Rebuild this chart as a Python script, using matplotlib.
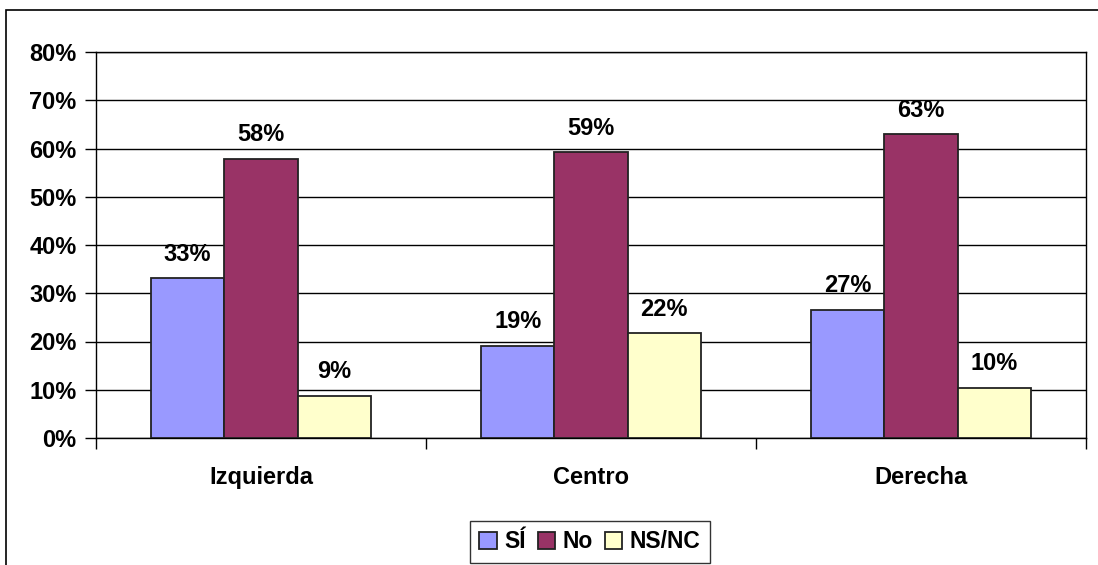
import matplotlib.pyplot as plt
import numpy as np
from matplotlib.patches import Rectangle

plt.rcParams["font.family"] = ["Liberation Sans", "DejaVu Sans"]
plt.rcParams["font.weight"] = "bold"

categories = ["Izquierda", "Centro", "Derecha"]
series = ["SÍ", "No", "NS/NC"]
si = [33.1, 19.1, 26.6]
no = [57.9, 59.2, 63.0]
nsnc = [8.8, 21.7, 10.4]
colors = ["#9999FF", "#993366", "#FFFFCC"]

fig = plt.figure(figsize=(10.98, 5.65), dpi=100)
ax = fig.add_axes([96 / 1098, 1 - 438 / 565, 990 / 1098, 386 / 565])

# outer chart border (only top and left visible in the frame)
fig.patches.append(Rectangle((6 / 1098, -0.1), 1.2, (565 - 10) / 565 + 0.1,
                             transform=fig.transFigure, fill=False,
                             edgecolor="black", linewidth=1.2))

x = np.arange(len(categories))
w = 1 / 4.5
for i, (vals, name, col) in enumerate(zip([si, no, nsnc], series, colors)):
    bars = ax.bar(x + (i - 1) * w, vals, w, color=col, edgecolor="#222222",
                  linewidth=1.3, label=name, zorder=3)
    for b, v in zip(bars, vals):
        ax.annotate(f"{v:.0f}%", (b.get_x() + b.get_width() / 2, v),
                    xytext=(0, 9), textcoords="offset points",
                    ha="center", va="bottom", fontsize=17, fontweight="bold")

ax.set_xlim(-0.5, 2.5)
ax.set_ylim(0, 80)
ax.set_yticks(range(0, 81, 10))
ax.set_yticklabels([f"{t}%" for t in range(0, 81, 10)], fontsize=17)
ax.yaxis.grid(True, color="black", linewidth=1, zorder=0)
ax.set_xticks(x)
ax.set_xticklabels(categories, fontsize=17)
ax.set_xticks([-0.5, 0.5, 1.5, 2.5], minor=True)
ax.tick_params(axis="x", which="major", length=0, pad=20)
ax.tick_params(axis="x", which="minor", length=8, width=1, direction="out")
ax.tick_params(axis="y", length=8, width=1, direction="out", pad=6)
for s in ax.spines.values():
    s.set_color("black")
    s.set_linewidth(1)

leg = ax.legend(loc="center", bbox_to_anchor=(590 / 1098, 1 - 542 / 565),
                bbox_transform=fig.transFigure, ncol=3, fontsize=16.5,
                frameon=True, fancybox=False, edgecolor="black",
                handlelength=0.75, handleheight=0.75, handletextpad=0.35,
                columnspacing=0.5, borderpad=0.4, borderaxespad=0)
leg.get_frame().set_linewidth(1)

fig.savefig("out.png", dpi=100)
